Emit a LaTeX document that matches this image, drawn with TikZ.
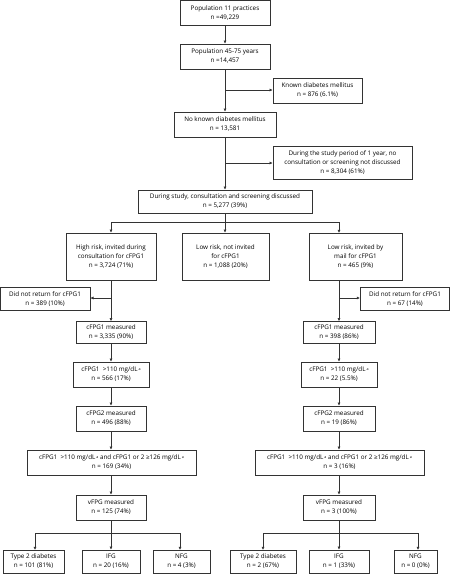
\documentclass[tikz,border=0pt]{standalone}
\usepackage{fontspec}
\setmainfont{Open Sans}
\usetikzlibrary{arrows.meta}
\tikzset{
  box/.style={draw=black!80, line width=0.6pt, align=center, inner sep=1pt, font=\fontsize{6.3}{9}\selectfont, minimum height=#1},
  box/.default=25,
  conn/.style={draw=black!80, line width=0.6pt},
  arr/.style={conn, -{Latex[length=3.2pt,width=3.2pt]}},
}
\newcommand{\supa}{\,\raisebox{1.8pt}{\fontsize{3.6}{4}\selectfont a}}
\begin{document}
\begin{tikzpicture}[x=1pt,y=-1pt]
\useasboundingbox (0,0) rectangle (450,574);
% top column
\node[box, minimum width=90] (p11) at (225,12.8) {Population 11 practices\\n =49,229};
\node[box, minimum width=90] (p45) at (225,56.5) {Population 45-75 years\\n =14,457};
\node[box, minimum width=89] (known) at (317.5,90.5) {Known diabetes mellitus\\n = 876 (6.1\%)};
\node[box, minimum width=102] (noknown) at (225,124.5) {No known diabetes mellitus\\n = 13,581};
\node[box=33, minimum width=139] (period) at (342.5,162.5) {During the study period of 1 year, no\\consultation or screening not discussed\\n = 8,304 (61\%)};
\node[box=23, minimum width=174] (during) at (225,201.5) {During study, consultation and screening discussed\\n = 5,277 (39\%)};
% level 2
\node[box=47, minimum width=90] (high) at (111,256.5) {High risk, invited during\\consultation for cFPG1\\n = 3,724 (71\%)};
\node[box=47, minimum width=87] (lownot) at (225.5,256.5) {Low risk, not invited\\for cFPG1\\n = 1,088 (20\%)};
\node[box=47, minimum width=93] (mail) at (355.5,256.5) {Low risk, invited by\\mail for cFPG1\\n = 465 (9\%)};
% did not return
\node[box=23, minimum width=90] (dnrL) at (45,299) {Did not return for cFPG1\\n = 389 (10\%)};
\node[box=23, minimum width=89.5] (dnrR) at (405,299) {Did not return for cFPG1\\n = 67 (14\%)};
% left column
\node[box=22, minimum width=70] (m1L) at (111,332.5) {cFPG1 measured\\n = 3,335 (90\%)};
\node[box, minimum width=76] (g1L) at (111,374.5) {cFPG1 \ >110 mg/dL\supa\\n = 566 (17\%)};
\node[box, minimum width=70] (m2L) at (111,418.5) {cFPG2 measured\\n = 496 (88\%)};
\node[box, minimum width=169] (cL) at (111.5,462.5) {cFPG1 \ >110 mg/dL\supa{} and cFPG1 or 2 ≥126 mg/dL\supa\\n = 169 (34\%)};
\node[box, minimum width=70] (vL) at (111,507.5) {vFPG measured\\n = 125 (74\%)};
\node[box=23, minimum width=61] (t2L) at (33.5,561.5) {Type 2 diabetes\\n = 101 (81\%)};
\node[box=23, minimum width=58] (ifgL) at (111,561.5) {IFG\\n = 20 (16\%)};
\node[box=23, minimum width=57] (nfgL) at (181.5,561.5) {NFG\\n = 4 (3\%)};
% right column
\node[box=22, minimum width=72] (m1R) at (339,332.5) {cFPG1 measured\\n = 398 (86\%)};
\node[box, minimum width=76] (g1R) at (339,374.5) {cFPG1 \ >110 mg/dL\supa\\n = 22 (5.5\%)};
\node[box, minimum width=72] (m2R) at (339,418.5) {cFPG2 measured\\n = 19 (86\%)};
\node[box, minimum width=169] (cR) at (339.5,462.5) {cFPG1 \ >110 mg/dL\supa{} and cFPG1 or 2 ≥126 mg/dL\supa\\n = 3 (16\%)};
\node[box, minimum width=72] (vR) at (339,507.5) {vFPG measured\\n = 3 (100\%)};
\node[box=23, minimum width=66] (t2R) at (263,561.5) {Type 2 diabetes\\n = 2 (67\%)};
\node[box=23, minimum width=60] (ifgR) at (339,561.5) {IFG\\n = 1 (33\%)};
\node[box=23, minimum width=43] (nfgR) at (415.5,561.5) {NFG\\n = 0 (0\%)};
% coordinates
\coordinate (jk) at (225,90);
\coordinate (jp) at (225,163);
\coordinate (split) at (225,222);
\coordinate (jL) at (111,298);
\coordinate (jR) at (339,298);
\coordinate (bL) at (111,533);
\coordinate (bR) at (339,533);
% connectors
\draw[arr] (p11) -- (p45);
\draw[arr] (p45) -- (noknown);
\draw[arr] (jk) -- (known.west |- jk);
\draw[arr] (noknown) -- (during);
\draw[arr] (jp) -- (period.west |- jp);
\draw[conn] (during.south) -- (split);
\draw[arr] (split) -| (high.north);
\draw[arr] (split) -- (lownot.north -| split);
\draw[arr] (split) -| (339,233);
\draw[arr] (high.south) -- (m1L.north);
\draw[arr] (jL) -- (dnrL.east |- jL);
\draw[arr] (mail.south -| m1R.north) -- (m1R.north);
\draw[arr] (jR) -- (dnrR.west |- jR);
\draw[arr] (m1L) -- (g1L);
\draw[arr] (g1L) -- (m2L);
\draw[arr] (m2L) -- (cL.north -| m2L);
\draw[arr] (cL.south -| vL) -- (vL);
\draw[arr] (m1R) -- (g1R);
\draw[arr] (g1R) -- (m2R);
\draw[arr] (m2R) -- (cR.north -| m2R);
\draw[arr] (cR.south -| vR) -- (vR);
\draw[conn] (vL) -- (bL);
\draw[arr] (bL) -| (35,550);
\draw[arr] (bL) -- (ifgL);
\draw[arr] (bL) -| (180,550);
\draw[conn] (vR) -- (bR);
\draw[arr] (bR) -| (263,550);
\draw[arr] (bR) -- (ifgR);
\draw[arr] (bR) -| (418,550);
\end{tikzpicture}
\end{document}
